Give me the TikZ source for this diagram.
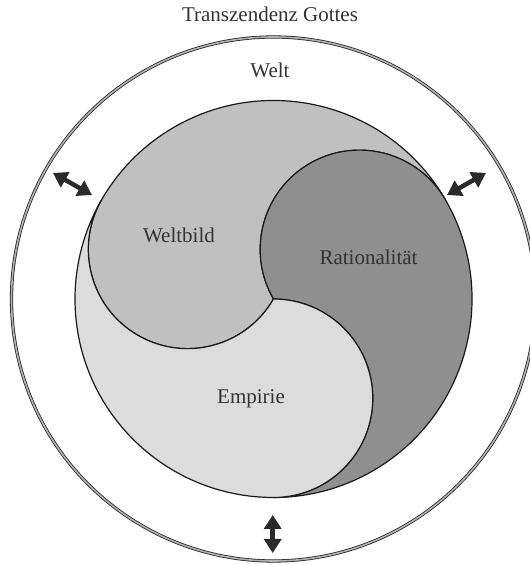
\documentclass[tikz,border=0pt]{standalone}
\usepackage{fontspec}
\setmainfont{Liberation Serif}
\usetikzlibrary{arrows.meta}
\definecolor{cWelt}{HTML}{C0C0C0}
\definecolor{cRat}{HTML}{8F8F8F}
\definecolor{cEmp}{HTML}{DCDCDC}
\definecolor{cTxt}{HTML}{333333}
\definecolor{cArr}{HTML}{2A2A2A}
\tikzset{
  region/.style={draw=black!90, line width=1.2pt, line join=round},
  lbl/.style={anchor=base, text=cTxt, inner sep=0pt, font=\fontsize{21}{25}\selectfont},
  ringline/.style={draw=black!85, line width=0.8pt, double=black!30, double distance=1.6pt},
  dblarrow/.style={draw=cArr, line width=4.5pt, {Triangle[width=17pt,length=14pt]}-{Triangle[width=17pt,length=14pt]}}
}
\begin{document}
\begin{tikzpicture}[x=1pt,y=1pt]
\clip (0,0) rectangle (530,565);
\fill[white] (0,0) rectangle (530,565);
% geometry
\def\RR{198.5}
\def\rr{99.25}
\coordinate (O) at (273.5,266);
% outer ring
\draw[ringline] (O) circle[radius=262];
% Weltbild region
\filldraw[region, fill=cWelt] (O) ++(30:\RR) arc[start angle=30, end angle=150, radius=\RR]
  arc[start angle=150, end angle=330, radius=\rr]
  arc[start angle=210, end angle=30, radius=\rr] -- cycle;
% Rationalitaet region
\filldraw[region, fill=cRat] (O) ++(30:\RR) arc[start angle=30, end angle=-90, radius=\RR]
  arc[start angle=-90, end angle=90, radius=\rr]
  arc[start angle=210, end angle=30, radius=\rr] -- cycle;
% Empirie region
\filldraw[region, fill=cEmp] (O) ++(-90:\RR) arc[start angle=-90, end angle=-210, radius=\RR]
  arc[start angle=150, end angle=330, radius=\rr]
  arc[start angle=90, end angle=-90, radius=\rr] -- cycle;
% labels
\node[lbl] (title) at (270,543.3) {Transzendenz Gottes};
\node[lbl] (welt) at (270,487) {Welt};
\node[lbl] (weltbild) at (179,322) {Weltbild};
\node[lbl] (ratio) at (368.5,300) {Rationalität};
\node[lbl] (empirie) at (251,161) {Empirie};
% arrows
\coordinate (a1) at (53,392);
\coordinate (a2) at (92,370);
\coordinate (b1) at (447,370);
\coordinate (b2) at (486,392);
\coordinate (c1) at (272.7,50);
\coordinate (c2) at (272.7,12);
\draw[dblarrow] (a1) -- (a2);
\draw[dblarrow] (b1) -- (b2);
\draw[dblarrow] (c1) -- (c2);
\end{tikzpicture}
\end{document}
